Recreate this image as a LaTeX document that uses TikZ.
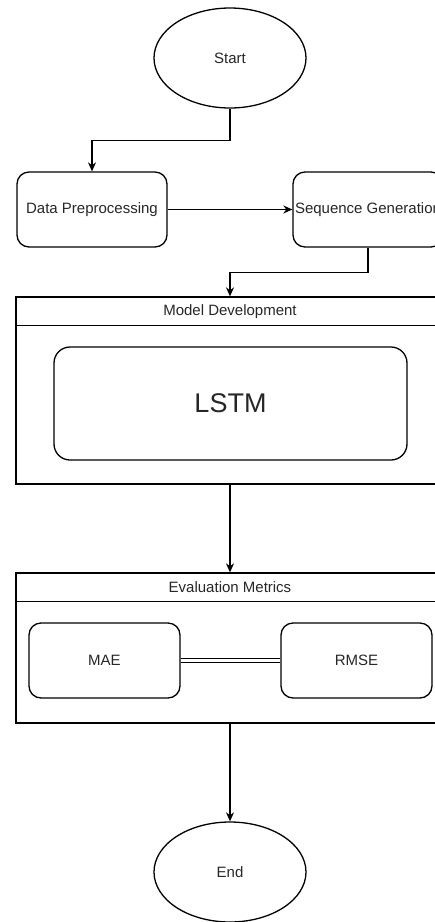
\documentclass[tikz,border=0pt]{standalone}
\usepackage{fontspec}
\setmainfont{Liberation Sans}
\usetikzlibrary{shapes.geometric, arrows.meta, positioning}

\begin{document}
\begin{tikzpicture}[x=1pt, y=-1pt, line width=1.3pt,
    >={Stealth[length=9pt, width=8pt]},
    every node/.style={font=\fontsize{15}{18}\selectfont, text=black!85},
    endpoint/.style={draw, ellipse, minimum width=152pt, minimum height=100pt, inner sep=0pt},
    procbox/.style={draw, rounded corners=12pt, minimum width=150pt, minimum height=75pt, inner sep=0pt},
    lane/.style={draw, minimum width=428pt, inner sep=0pt}]
    \useasboundingbox (0,0) rectangle (435,922);

    % 開始
    \node[endpoint] (start) at (230,58) {Start};

    % 前処理・系列生成
    \node[procbox] (data) at (92,209.5) {Data Preprocessing};
    \node[procbox] (seq) at (368,209.5) {Sequence Generation};

    % モデル構築のレーン
    \node[lane, minimum height=187pt] (model) at (230,390.5) {};
    \draw (model.north west) ++(0,29) -- ++(428,0);
    \node (modeltitle) at (230,311.5) {Model Development};
    \node[procbox, minimum width=353pt, minimum height=113pt, rounded corners=16pt,
          font=\fontsize{27}{32}\selectfont] (lstm) at (230.5,403.5) {LSTM};

    % 評価指標のレーン
    \node[lane, minimum height=150pt] (eval) at (230,648) {};
    \draw (eval.north west) ++(0,29) -- ++(428,0);
    \node (evaltitle) at (230,587.5) {Evaluation Metrics};
    \node[procbox, minimum width=151pt] (mae) at (104.5,660.5) {MAE};
    \node[procbox, minimum width=151pt] (rmse) at (356.5,660.5) {RMSE};

    % 終了
    \node[endpoint] (end) at (230,872) {End};

    % 矢印
    \draw[->] (start.south) -- ++(0,32) -| (data.north);
    \draw[->] (data.east) -- (seq.west);
    \draw[->] (seq.south) -- ++(0,25) -| (model.north);
    \draw[->] (model.south) -- (eval.north);
    \draw[double, double distance=2.6pt, line width=1pt] (mae) -- (rmse);
    \draw[->] (eval.south) -- (end.north);

\end{tikzpicture}
\end{document}
